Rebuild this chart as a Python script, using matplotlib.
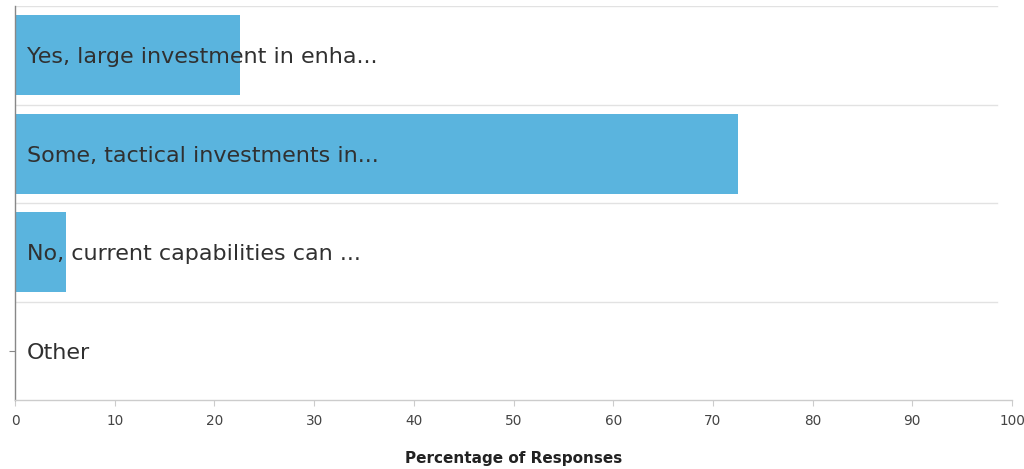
import matplotlib
matplotlib.use("Agg")
import matplotlib.pyplot as plt

# Survey answers and share of responses (%)
categories = [
    "Yes, large investment in enha...",
    "Some, tactical investments in...",
    "No, current capabilities can ...",
    "Other",
]
percentages = [22.6, 72.5, 5.1, 0.0]
x_ticks = list(range(0, 101, 10))

fig = plt.figure(figsize=(10.24, 4.69), dpi=100)
W, H = 1024, 469
left_px, right_px, top_px, bottom_px = 15, 1012, 6, 400
ax = fig.add_axes([left_px / W, 1 - bottom_px / H,
                   (right_px - left_px) / W, (bottom_px - top_px) / H])

y = list(range(len(categories)))
ax.barh(y, percentages, height=0.81, color="#5ab4de", zorder=2)

ax.set_xlim(0, 100)
ax.set_ylim(len(categories) - 0.5, -0.5)

# Row separators, stopping a little short of the axis end
grid_end = (997 - left_px) / (right_px - left_px)
for b in [i - 0.5 for i in range(len(categories))]:
    ax.axhline(b, xmin=0, xmax=grid_end, color="#e2e2e2", lw=1, zorder=1)

# Category text drawn inside the rows
for yi, label in zip(y, categories):
    ax.text(1.2, yi + 0.02, label, va="center", ha="left", fontsize=16.0,
            color="#303030", zorder=3)

ax.set_xticks(x_ticks)
ax.set_xticklabels([str(t) for t in x_ticks], fontsize=9.8, color="#444444")
ax.tick_params(axis="x", length=4, color="#cccccc", pad=6)
ax.set_yticks([3])
ax.set_yticklabels([""])
ax.tick_params(axis="y", length=4, color="#888888")

for s in ["top", "right"]:
    ax.spines[s].set_visible(False)
ax.spines["left"].set_color("#888888")
ax.spines["left"].set_linewidth(1)
ax.spines["bottom"].set_color("#cccccc")
ax.spines["bottom"].set_linewidth(1)

ax.set_xlabel("Percentage of Responses", fontsize=11, fontweight="bold",
              color="#222222", labelpad=17)

fig.savefig("out.png", dpi=100, facecolor="white")
